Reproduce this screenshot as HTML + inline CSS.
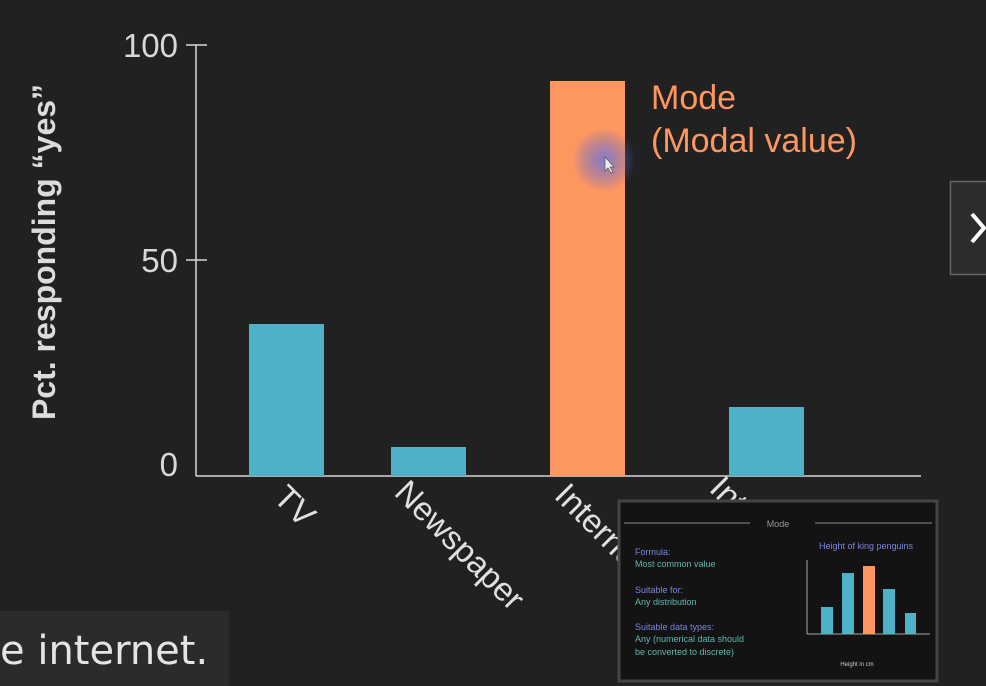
<!DOCTYPE html>
<html><head><style>
html,body{margin:0;padding:0;background:#212121;width:986px;height:686px;overflow:hidden}
</style></head><body>
<svg width="986" height="686" xmlns="http://www.w3.org/2000/svg" style="position:absolute;left:0;top:0">
<rect width="986" height="686" fill="#212121"/>
<g stroke="#d8d8d8" stroke-width="1.5" fill="none">
<line x1="196" y1="45" x2="196" y2="476"/>
<line x1="196" y1="476" x2="921" y2="476"/>
<line x1="186" y1="45" x2="207" y2="45"/>
<line x1="186" y1="260" x2="207" y2="260"/>
</g>
<g font-family="Liberation Sans, sans-serif" fill="#d8d8d8" font-size="33">
<text x="178" y="57" text-anchor="end">100</text>
<text x="178" y="272" text-anchor="end">50</text>
<text x="178" y="476" text-anchor="end">0</text>
</g>
<text transform="translate(55,252) rotate(-90)" text-anchor="middle" font-family="Liberation Sans, sans-serif" font-weight="bold" font-size="32" fill="#dcdcdc">Pct. responding “yes”</text>
<rect x="249" y="324" width="75" height="152" fill="#4db1c7"/>
<rect x="391" y="447" width="75" height="29" fill="#4db1c7"/>
<rect x="550" y="81" width="75" height="395" fill="#fe9660"/>
<rect x="729" y="407" width="75" height="69" fill="#4db1c7"/>
<defs><radialGradient id="g"><stop offset="0" stop-color="#7a7ad8" stop-opacity="0.9"/><stop offset="1" stop-color="#5060d0" stop-opacity="0"/></radialGradient></defs>
<circle cx="604" cy="160" r="32" fill="url(#g)"/>
<path d="M605 157 l0 14 l3 -3 l3 5 l2 -1 l-3 -5 l4 0 z" fill="#eee" stroke="#555" stroke-width="0.7"/>
<g font-family="Liberation Sans, sans-serif" fill="#fe9660" font-size="34">
<text x="651" y="109">Mode</text>
<text x="651" y="152">(Modal value)</text>
</g>
<g font-family="Liberation Sans, sans-serif" fill="#e0e0e0" font-size="33">
<text transform="translate(272,499) rotate(45)">TV</text>
<text transform="translate(393,494) rotate(45)">Newspaper</text>
<text transform="translate(553,497) rotate(45)">Internet</text>
<text transform="translate(708,490) rotate(45)">Internet</text>
</g>
<rect x="0" y="611" width="229" height="75" fill="#2a2b2d"/>
<text x="0" y="664" font-family="DejaVu Sans, sans-serif" font-size="40" fill="#e4e4e4">e internet.</text>
<rect x="950.5" y="181.5" width="40" height="93" fill="#2b2c2e" stroke="#666" stroke-width="1.5"/>
<path d="M972 214 l12 14 l-12 14" stroke="#fff" stroke-width="4" fill="none"/>
<rect x="619" y="501" width="318" height="180" fill="#131313" stroke="#444" stroke-width="3"/>
<g font-family="Liberation Sans, sans-serif" font-size="9">
<line x1="624" y1="523" x2="750" y2="523" stroke="#888"/>
<line x1="815" y1="523" x2="932" y2="523" stroke="#888"/>
<text x="778" y="527" fill="#999" text-anchor="middle">Mode</text>
<text x="635" y="555" fill="#7a86e0">Formula:</text>
<text x="635" y="567" fill="#5fb9b0">Most common value</text>
<text x="635" y="593" fill="#7a86e0">Suitable for:</text>
<text x="635" y="605" fill="#5fb9b0">Any distribution</text>
<text x="635" y="630" fill="#7a86e0">Suitable data types:</text>
<text x="635" y="642" fill="#5fb9b0">Any (numerical data should</text>
<text x="635" y="655" fill="#5fb9b0">be converted to discrete)</text>
<text x="866" y="549" fill="#7a86e0" text-anchor="middle">Height of king penguins</text>
</g>
<line x1="807" y1="560" x2="807" y2="634" stroke="#aaa"/>
<line x1="807" y1="634" x2="930" y2="634" stroke="#aaa"/>
<rect x="821" y="607" width="12" height="27" fill="#4db1c7"/>
<rect x="842" y="573" width="12" height="61" fill="#4db1c7"/>
<rect x="863" y="566" width="12" height="68" fill="#fe9660"/>
<rect x="883" y="589" width="12" height="45" fill="#4db1c7"/>
<rect x="905" y="613" width="11" height="21" fill="#4db1c7"/>
<text x="857" y="666" font-family="Liberation Sans, sans-serif" font-size="6" fill="#ccc" text-anchor="middle">Height in cm</text>
</svg>
</body></html>
